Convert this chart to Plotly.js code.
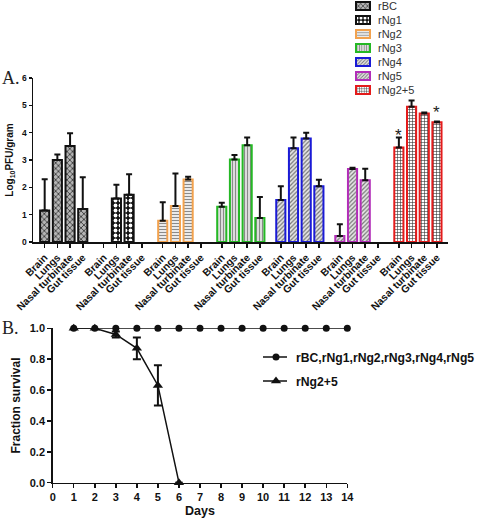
<!DOCTYPE html>
<html>
<head>
<meta charset="utf-8">
<script src="https://cdn.plot.ly/plotly-3.0.1.min.js"></script>
<style>html,body{margin:0;padding:0;background:#fff;}#chart{width:480px;height:521px;}</style>
</head>
<body>
<div id="chart"></div>
<script>
// ---------- Panel A data ----------
const tissues = ['Brain', 'Lungs', 'Nasal turbinate', 'Gut tissue'];
const viruses = ['rBC', 'rNg1', 'rNg2', 'rNg3', 'rNg4', 'rNg5', 'rNg2+5'];
// mean log10 PFU/gram (null = no virus detected)
const meanRBC   = [1.15, 3.00, 3.51, 1.21];
const meanRNg1  = [null, 1.59, 1.73, null];
const meanRNg2  = [0.78, 1.32, 2.29, null];
const meanRNg3  = [1.29, 3.02, 3.54, 0.88];
const meanRNg4  = [1.54, 3.43, 3.79, 2.04];
const meanRNg5  = [0.22, 2.67, 2.26, null];
const meanRNg25 = [3.46, 4.95, 4.70, 4.38];
// upper error (SD)
const errRBC   = [1.15, 0.20, 0.47, 1.16];
const errRNg1  = [null, 0.50, 0.75, null];
const errRNg2  = [0.67, 1.19, 0.10, null];
const errRNg3  = [0.15, 0.16, 0.28, 0.77];
const errRNg4  = [0.50, 0.39, 0.21, 0.24];
const errRNg5  = [0.43, 0.05, 0.42, null];
const errRNg25 = [0.36, 0.23, 0.04, 0.03];
// significance stars (rNg2+5), y in log10 units
const starLabels = ['*', '', '', '*'];
const starY = [4.03, null, null, 4.9];

// ---------- Panel B data ----------
const days = [1, 2, 3, 4, 5, 6, 7, 8, 9, 10, 11, 12, 13, 14];
const survivalOthers = [1, 1, 1, 1, 1, 1, 1, 1, 1, 1, 1, 1, 1, 1];
const daysRNg25 = [1, 2, 3, 4, 5, 6];
const survivalRNg25 = [1, 1, 0.96, 0.87, 0.63, 0];
const survivalErrRNg25 = [0, 0, 0.02, 0.07, 0.13, 0];

// ---------- styles ----------
const means = [meanRBC, meanRNg1, meanRNg2, meanRNg3, meanRNg4, meanRNg5, meanRNg25];
const errs = [errRBC, errRNg1, errRNg2, errRNg3, errRNg4, errRNg5, errRNg25];
const edgeColors = ['#111111', '#111111', '#F2A24E', '#25B825', '#1A1AD6', '#B22DB8', '#E41B1B'];
const patterns = [
  {shape: 'x', fgcolor: '#2a2a2a', bgcolor: '#b5b5b5', size: 4, solidity: 0.35},
  {shape: '.', fgcolor: '#ffffff', bgcolor: '#111111', size: 5, solidity: 0.45},
  {shape: '-', fgcolor: '#8a8a8a', bgcolor: '#ffffff', size: 3, solidity: 0.45},
  {shape: '|', fgcolor: '#8a8a8a', bgcolor: '#eeeeee', size: 3, solidity: 0.45},
  {shape: '/', fgcolor: '#777777', bgcolor: '#e6e6e6', size: 3, solidity: 0.4},
  {shape: '/', fgcolor: '#777777', bgcolor: '#e6e6e6', size: 3, solidity: 0.4},
  {shape: '+', fgcolor: '#333333', bgcolor: '#ffffff', size: 3, solidity: 0.35}
];
const groupPitch = 4.65;
const pos = (g, j) => g * groupPitch + j;

const traces = [];
const tickvals = [], ticktext = [];
viruses.forEach((v, g) => {
  const xs = tissues.map((t, j) => pos(g, j));
  tissues.forEach((t, j) => { tickvals.push(pos(g, j)); ticktext.push(t); });
  traces.push({
    type: 'bar', name: v, x: xs, y: means[g], width: 0.72,
    xaxis: 'x', yaxis: 'y', legend: 'legend',
    marker: {color: patterns[g].bgcolor, line: {color: edgeColors[g], width: 2}, pattern: patterns[g]},
    error_y: {type: 'data', symmetric: false, array: errs[g], arrayminus: errs[g].map(() => 0),
              color: '#111', thickness: 2, width: 3}
  });
});

traces.push({
  type: 'scatter', mode: 'lines+markers', name: 'rBC,rNg1,rNg2,rNg3,rNg4,rNg5',
  x: days, y: survivalOthers, xaxis: 'x2', yaxis: 'y2', legend: 'legend2', cliponaxis: false,
  line: {color: '#111', width: 1.5}, marker: {symbol: 'circle', size: 7, color: '#111'}
});
traces.push({
  type: 'scatter', mode: 'lines+markers', name: 'rNg2+5',
  x: daysRNg25, y: survivalRNg25, xaxis: 'x2', yaxis: 'y2', legend: 'legend2', cliponaxis: false,
  line: {color: '#111', width: 1.5}, marker: {symbol: 'triangle-up', size: 9, color: '#111'},
  error_y: {type: 'data', array: survivalErrRNg25, color: '#111', thickness: 2, width: 4}
});

const annotations = [];
starLabels.forEach((s, j) => {
  if (s) annotations.push({x: pos(6, j), y: starY[j], xref: 'x', yref: 'y', text: s, showarrow: false,
    font: {size: 17, color: '#222', family: 'Liberation Sans, Arial'}, yanchor: 'middle', yshift: -4});
});
annotations.push({x: 0, y: 443 / 521, xref: 'paper', yref: 'paper', xanchor: 'left', yanchor: 'middle',
  text: 'A.', showarrow: false, font: {family: 'Liberation Serif, Times New Roman', size: 18, color: '#222'}});
annotations.push({x: 0, y: 193 / 521, xref: 'paper', yref: 'paper', xanchor: 'left', yanchor: 'middle',
  text: 'B.', showarrow: false, font: {family: 'Liberation Serif, Times New Roman', size: 18, color: '#222'}});

const axisCommon = {showline: true, linecolor: '#111', linewidth: 1.5, ticks: 'outside', tickcolor: '#111',
  tickwidth: 1.5, showgrid: false, zeroline: false};

const layout = {
  width: 480, height: 521,
  margin: {l: 0, r: 0, t: 0, b: 0, autoexpand: false},
  paper_bgcolor: '#fff', plot_bgcolor: '#fff',
  font: {family: 'Liberation Sans, Arial', color: '#111'},
  barmode: 'overlay',
  showlegend: true,
  xaxis: Object.assign({}, axisCommon, {
    domain: [33 / 480, 448 / 480], range: [-0.92, 31.77], anchor: 'y',
    tickmode: 'array', tickvals: tickvals, ticktext: ticktext, tickangle: -45, ticklen: 4,
    tickfont: {size: 10.3, family: 'Liberation Sans, Arial', weight: 'bold'}
  }),
  yaxis: Object.assign({}, axisCommon, {
    domain: [279 / 521, 443 / 521], range: [0, 6], dtick: 1, anchor: 'x', ticklen: 3,
    tickfont: {size: 8.5, weight: 'bold'},
    title: {text: 'Log<sub>10</sub>PFU/gram', font: {size: 10, weight: 'bold'}, standoff: 6}
  }),
  xaxis2: Object.assign({}, axisCommon, {
    domain: [52.7 / 480, 347.3 / 480], range: [0, 14], dtick: 1, anchor: 'y2', ticklen: 4,
    tickfont: {size: 11, weight: 'bold'},
    title: {text: 'Days', font: {size: 12.5, weight: 'bold'}, standoff: 4}
  }),
  yaxis2: Object.assign({}, axisCommon, {
    domain: [38.3 / 521, 192.7 / 521], range: [0, 1], dtick: 0.2, tickformat: '.1f', anchor: 'x2', ticklen: 4,
    tickfont: {size: 11, weight: 'bold'},
    title: {text: 'Fraction survival', font: {size: 12, weight: 'bold'}, standoff: 6}
  }),
  legend: {x: 0.71, y: 1, xanchor: 'left', yanchor: 'top', bgcolor: 'rgba(0,0,0,0)',
    font: {size: 11, color: '#333'}, tracegroupgap: 0},
  legend2: {x: 0.54, y: 0.34, xanchor: 'left', yanchor: 'top', bgcolor: 'rgba(0,0,0,0)',
    font: {size: 12.2, weight: 'bold', color: '#111'}},
  annotations: annotations
};

Plotly.newPlot('chart', traces, layout, {displayModeBar: false, staticPlot: true}).then(function (gd) {
  // compact legend spacing to match the figure
  function compact(cls, x0, y0, step, swatch, textX, lineD) {
    const lg = gd.querySelector('g.' + cls);
    if (!lg) return;
    lg.setAttribute('transform', 'translate(' + x0 + ',' + y0 + ')');
    lg.removeAttribute('clip-path');
    lg.querySelectorAll('[clip-path]').forEach(function (el) { el.removeAttribute('clip-path'); });
    const sb = lg.querySelector('.scrollbox');
    if (sb) sb.setAttribute('transform', 'translate(0,0)');
    lg.querySelectorAll('g.traces').forEach(function (it, i) {
      it.setAttribute('transform', 'translate(0,' + (i * step) + ')');
      if (swatch) it.querySelectorAll('.legendpoints path').forEach(function (p) { p.setAttribute('d', swatch); });
      if (lineD) it.querySelectorAll('.legendlines path').forEach(function (p) { p.setAttribute('d', lineD); });
      if (textX !== null) {
        const t = it.querySelector('text.legendtext');
        if (t) t.setAttribute('x', textX);
      }
    });
  }
  compact('legend', 343, 6, 14, 'M7,4H-7V-4H7Z', 35, null);
  compact('legend2', 256, 357, 24, null, 36, 'M7,0h24');
});
</script>
</body>
</html>
